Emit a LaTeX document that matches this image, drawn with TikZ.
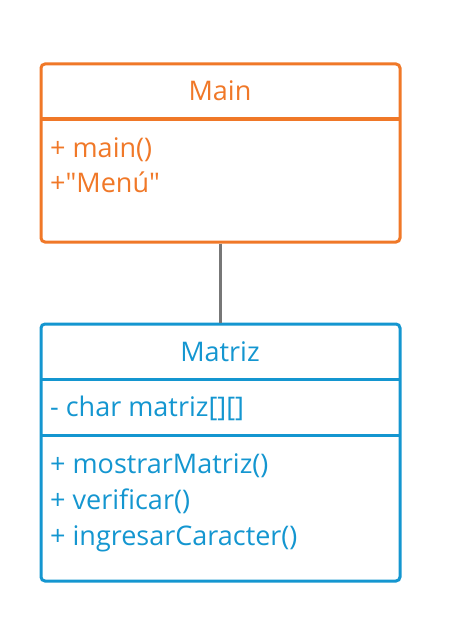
\documentclass[tikz,border=0pt]{standalone}
\usepackage{fontspec}
\setmainfont{Open Sans}[Ligatures=TeXOff]
\definecolor{org}{HTML}{F07828}
\definecolor{blu}{HTML}{1496D0}
\definecolor{gry}{HTML}{777777}
\begin{document}
\begin{tikzpicture}[x=1pt,y=-1pt,
  box/.style={line width=3pt,rounded corners=4pt},
  txt/.style={font=\fontsize{27}{30}\selectfont,inner sep=0pt,anchor=base west},
  ttl/.style={font=\fontsize{27}{30}\selectfont,inner sep=0pt,anchor=base}]
\useasboundingbox (0,0) rectangle (469,623);
% Main
\draw[box,org] (41,64) rectangle (400,242);
\draw[org,line width=3pt] (41,119) -- (400,119);
\node[ttl,text=org] (mainT) at (220,101) {Main};
\node[txt,text=org] (m1) at (50,157) {+ main()};
\node[txt,text=org] (m2) at (50,192.5) {+"Menú"};
\coordinate (mainB) at (220,242);
% Matriz
\draw[box,blu] (41,324) rectangle (400,581);
\draw[blu,line width=3pt] (41,379) -- (400,379);
\draw[blu,line width=3pt] (41,435) -- (400,435);
\node[ttl,text=blu] (matT) at (220,361) {Matriz};
\node[txt,text=blu] (a1) at (50,416) {- char matriz[][]};
\node[txt,text=blu] (o1) at (50,473) {+ mostrarMatriz()};
\node[txt,text=blu] (o2) at (50,509) {+ verificar()};
\node[txt,text=blu] (o3) at (50,545) {+ ingresarCaracter()};
\coordinate (matT0) at (220,322.5);
\draw[gry,line width=3pt] (220,243.5) -- (matT0);
\end{tikzpicture}
\end{document}
